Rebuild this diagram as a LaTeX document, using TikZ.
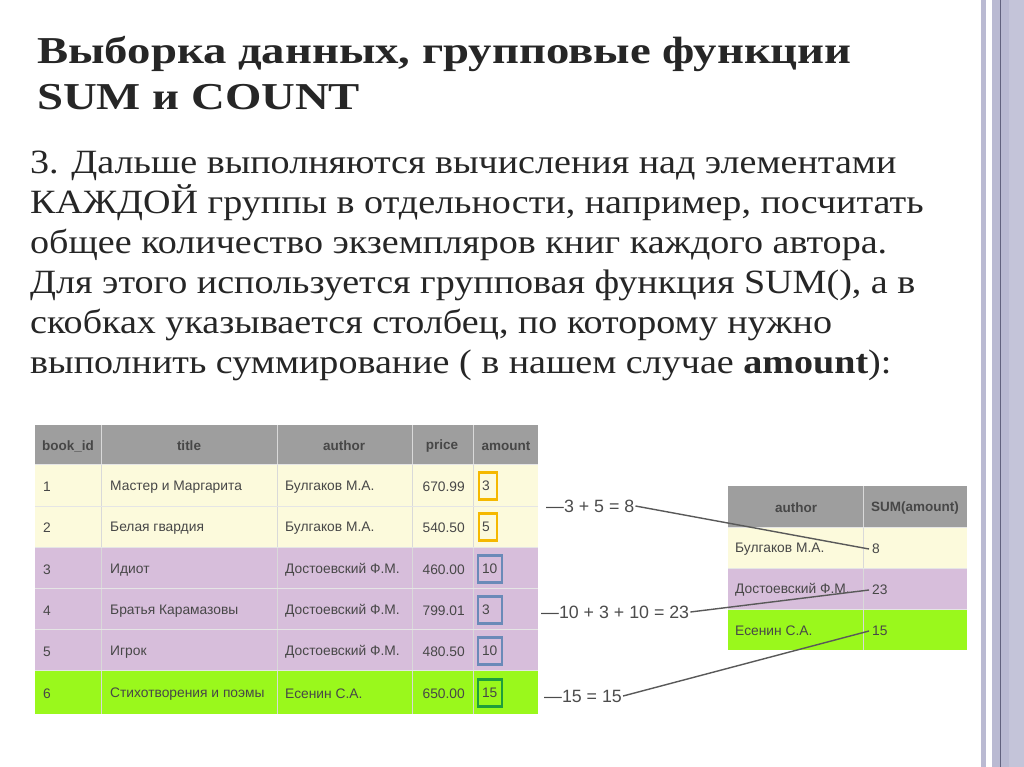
\documentclass[tikz,border=0pt]{standalone}
\usepackage{fontspec}
\usepackage{graphicx}
\setmainfont{Liberation Serif}
\newfontfamily\tabfont{Liberation Sans}
\begin{document}
\begin{tikzpicture}[x=1pt,y=-1pt,
  cell/.style={inner sep=0pt,anchor=west,font=\tabfont\fontsize{13.8}{16}\selectfont,text=black!72},
  hcell/.style={inner sep=0pt,font=\tabfont\bfseries\fontsize{13.5}{16}\selectfont,text=black!72},
  amt/.style={draw,line width=2.5pt,minimum width=18pt,minimum height=27pt,inner sep=0pt},
  lbl/.style={inner sep=1pt,anchor=west,font=\tabfont\fontsize{17.8}{20}\selectfont,text=black!70},
  link/.style={draw=black!65,line width=1.4pt}]
\definecolor{hd}{HTML}{9E9E9E}
\definecolor{ye}{HTML}{FCFADC}
\definecolor{pu}{HTML}{D7BEDB}
\definecolor{gr}{HTML}{9AF81C}
\definecolor{st}{HTML}{BABAD2}
\definecolor{sd}{HTML}{62627E}
\useasboundingbox (0,0) rectangle (1024,767);
\fill[white] (0,0) rectangle (1024,767);
% right decoration stripes
\fill[st] (981,0) rectangle (986,767);
\fill[st] (992,0) rectangle (1024,767);
\fill[sd] (999.5,0) rectangle (1001,767);
\fill[st!85!white] (1009,0) rectangle (1024,767);
% title
\node[anchor=north west,align=left,inner sep=0pt,font=\bfseries\fontsize{38}{46}\selectfont,text=black!85] (title) at (37,36)
 {\scalebox{1.23}[1]{Выборка данных, групповые функции}\\\scalebox{1.23}[1]{SUM и COUNT}};
\node[anchor=north west,align=left,inner sep=0pt,font=\fontsize{34}{40}\selectfont,text=black!85] (body) at (30,151)
 {\scalebox{1.12}[1]{3. Дальше выполняются вычисления над элементами}\\
 \scalebox{1.12}[1]{КАЖДОЙ группы в отдельности, например, посчитать}\\
 \scalebox{1.12}[1]{общее количество экземпляров книг каждого автора.}\\
 \scalebox{1.12}[1]{Для этого используется групповая функция SUM(), а в}\\
 \scalebox{1.12}[1]{скобках указывается столбец, по которому нужно}\\
 \scalebox{1.12}[1]{выполнить суммирование ( в нашем случае \textbf{amount}):}};
% left table backgrounds
\fill[hd] (35,425) rectangle (538,464);
\fill[ye] (35,464) rectangle (538,547);
\fill[pu] (35,547) rectangle (538,670);
\fill[gr] (35,670) rectangle (538,714);
\foreach \x in {101,277,412,473} \draw[white!85!black,line width=0.6pt] (\x,425) -- (\x,714);
\foreach \y in {464,506,547,588,629,670} \draw[white!80!gray,line width=0.6pt] (35,\y) -- (538,\y);
\node[hcell] (h1) at (68,446) {book\_id};
\node[hcell] (h2) at (189,446) {title};
\node[hcell] (h3) at (344,446) {author};
\node[hcell] (h4) at (442,446) {price};
\node[hcell] (h5) at (506,446) {amount};
\foreach \y/\a/\b/\c/\d in {487/1/Мастер и Маргарита/Булгаков М.А./670.99,
  528/2/Белая гвардия/Булгаков М.А./540.50,
  570/3/Идиот/Достоевский Ф.М./460.00,
  611/4/Братья Карамазовы/Достоевский Ф.М./799.01,
  652/5/Игрок/Достоевский Ф.М./480.50,
  694/6/Стихотворения и поэмы/Есенин С.А./650.00}{
  \node[cell] at (43,\y) {\a};
  \node[cell] at (110,\y) {\b};
  \node[cell] at (285,\y) {\c};
  \node[cell,anchor=east] at (465,\y) {\d};}
\definecolor{oa}{HTML}{F5B800}
\definecolor{bl}{HTML}{6A8AB8}
\definecolor{gg}{HTML}{1E9E3C}
\node[amt,draw=oa,cell,anchor=center,text width=12pt] (a1) at (488,486) {3};
\node[amt,draw=oa,cell,anchor=center,text width=12pt] (a2) at (488,527) {5};
\node[amt,draw=bl,cell,anchor=center,text width=16pt,minimum width=24pt] (a3) at (490,569) {10};
\node[amt,draw=bl,cell,anchor=center,text width=16pt,minimum width=24pt] (a4) at (490,610) {3};
\node[amt,draw=bl,cell,anchor=center,text width=16pt,minimum width=24pt] (a5) at (490,651) {10};
\node[amt,draw=gg,cell,anchor=center,text width=16pt,minimum width=24pt] (a6) at (490,693) {15};
% right table
\fill[hd] (728,486) rectangle (967,527);
\fill[ye] (728,527) rectangle (967,568);
\fill[pu] (728,568) rectangle (967,609);
\fill[gr] (728,609) rectangle (967,650);
\draw[white!85!black,line width=0.6pt] (863,486) -- (863,650);
\foreach \y in {527,568,609} \draw[white!80!gray,line width=0.6pt] (728,\y) -- (967,\y);
\node[hcell] (r1) at (796,508) {author};
\node[hcell] (r2) at (915,508) {SUM(amount)};
\node[cell] (n1) at (735,549) {Булгаков М.А.};
\node[cell] (n2) at (735,590) {Достоевский Ф.М.};
\node[cell] (n3) at (735,631) {Есенин С.А.};
\node[cell] (s1) at (872,549) {8};
\node[cell] (s2) at (872,590) {23};
\node[cell] (s3) at (872,631) {15};
% labels and links
\node[lbl] (l1) at (545,506) {—3 + 5 = 8};
\node[lbl] (l2) at (540,612) {—10 + 3 + 10 = 23};
\node[lbl] (l3) at (543,696) {—15 = 15};
\draw[link] (l1.east) -- ([xshift=-3pt]s1.west);
\draw[link] (l2.east) -- ([xshift=-3pt]s2.west);
\draw[link] (l3.east) -- ([xshift=-3pt]s3.west);
\end{tikzpicture}
\end{document}
